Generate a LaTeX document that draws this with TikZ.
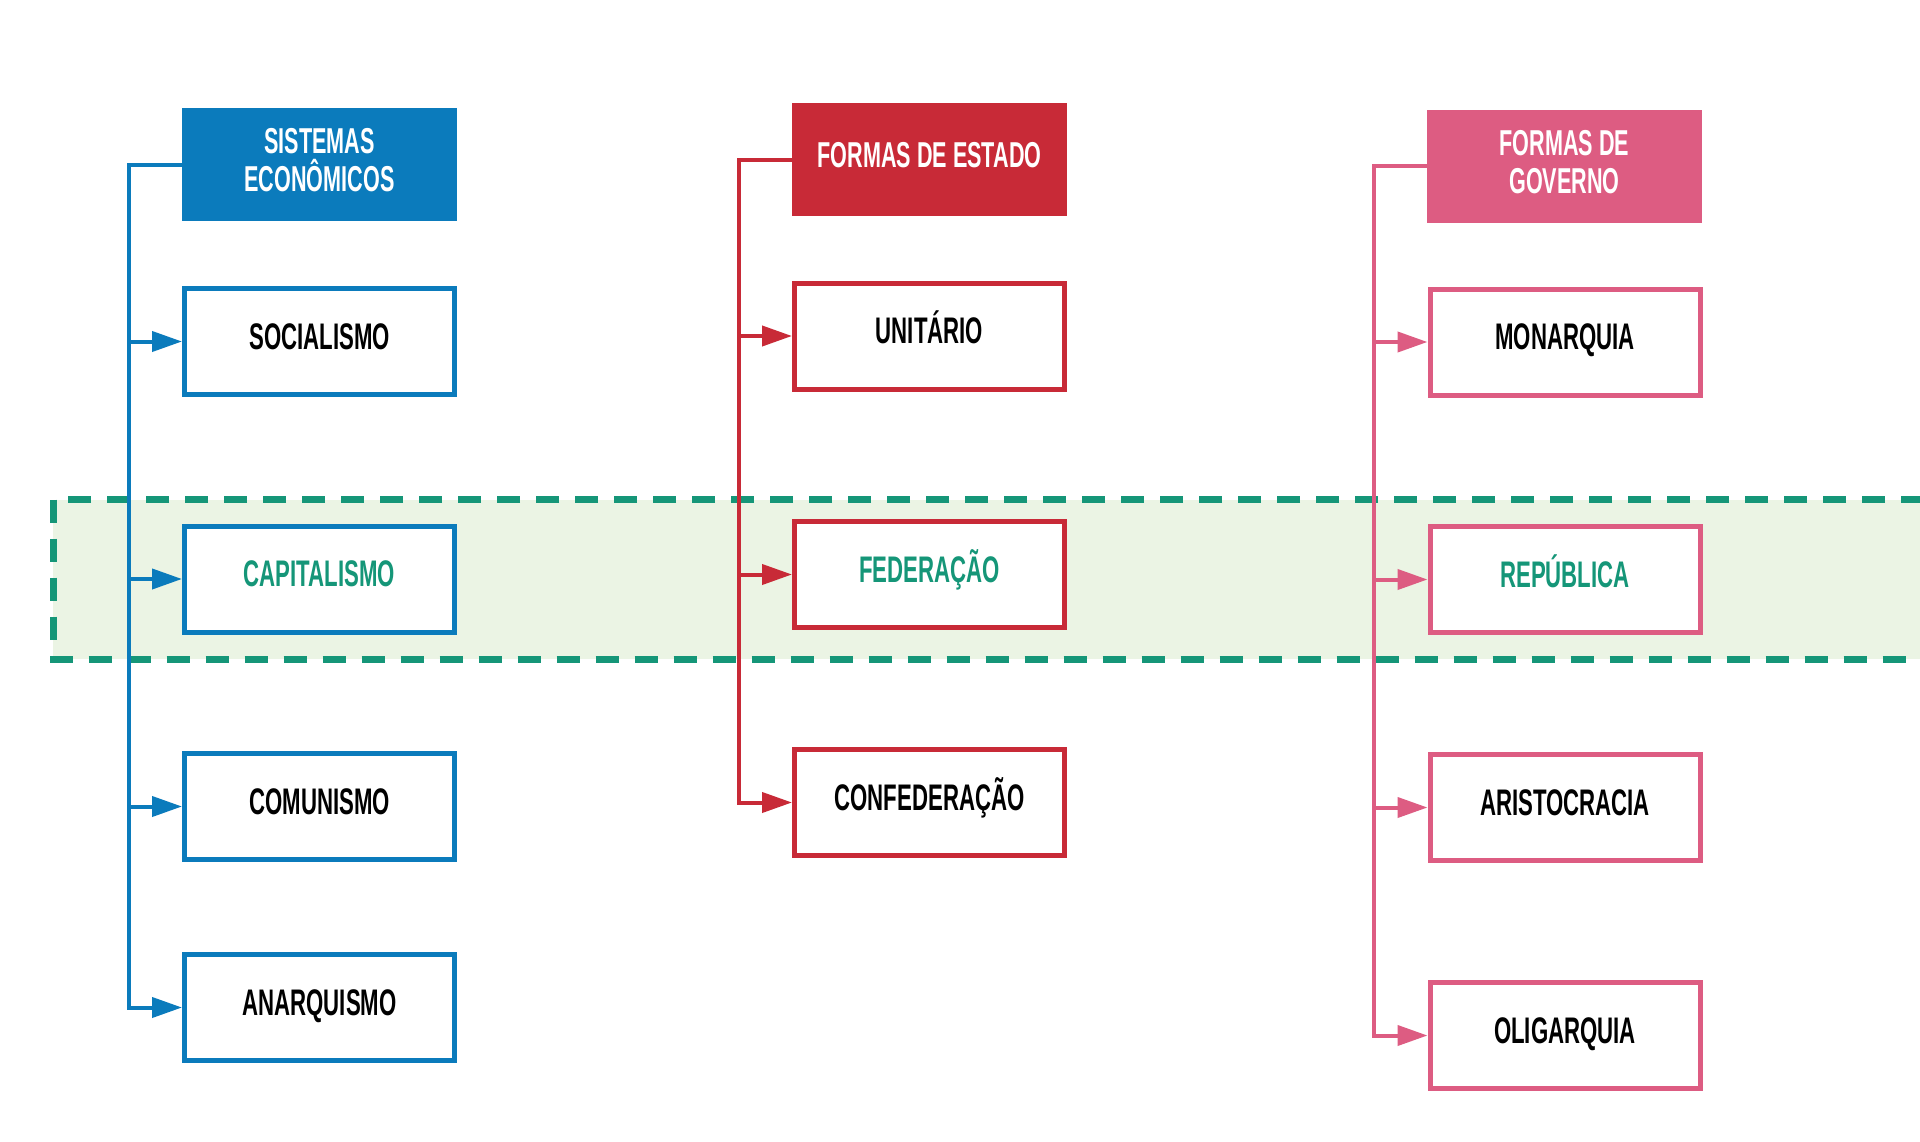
\documentclass[tikz,border=0pt]{standalone}
\usepackage{fontspec}
\setmainfont{Liberation Sans}[FakeStretch=0.6]
\usetikzlibrary{arrows.meta}
\definecolor{azul}{HTML}{0B7BBC}
\definecolor{vermelho}{HTML}{C82A37}
\definecolor{rosa}{HTML}{DD5C82}
\definecolor{verde}{HTML}{159678}
\definecolor{verdeclaro}{HTML}{EBF4E4}

\begin{document}
\begin{tikzpicture}[x=1pt,y=-1pt,
    caixa/.style={draw=#1,line width=5pt,fill=white,minimum width=270pt,minimum height=106pt,
      font=\fontsize{37}{40}\selectfont\bfseries,text height=27pt,text depth=12pt},
    titulo/.style={fill=#1,minimum width=275pt,minimum height=113pt,text=white,align=center,
      font=\fontsize{36}{38}\selectfont\bfseries,text depth=10pt},
    liga/.style={draw=#1,line width=4pt,-{Triangle[length=30pt,width=20pt]}},
    destaque/.style={text=verde}]
  \clip (0,0) rectangle (1920,1142);
  % faixa em destaque
  \draw[verde,fill=verdeclaro,line width=7pt,dash pattern=on 23pt off 16pt] (53,499.5) rectangle (1960,659);

  % sistemas economicos
  \node[titulo=azul] (se) at (319.5,165) {SISTEMAS\\ECONÔMICOS};
  \node[caixa=azul] (so) at (319.5,341.5) {SOCIALISMO};
  \node[caixa=azul,destaque] (ca) at (319.5,579) {CAPITALISMO};
  \node[caixa=azul] (co) at (319.5,806.5) {COMUNISMO};
  \node[caixa=azul] (an) at (319.5,1007.5) {ANARQUISMO};

  % formas de estado
  \node[titulo=vermelho] (fe) at (929.5,160) {FORMAS DE ESTADO};
  \node[caixa=vermelho] (un) at (929.5,336) {UNITÁRIO};
  \node[caixa=vermelho,destaque] (fd) at (929.5,574.5) {FEDERAÇÃO};
  \node[caixa=vermelho] (cf) at (929.5,802.5) {CONFEDERAÇÃO};

  % formas de governo
  \node[titulo=rosa] (fg) at (1564.5,166.5) {FORMAS DE\\GOVERNO};
  \node[caixa=rosa] (mo) at (1565,342) {MONARQUIA};
  \node[caixa=rosa,destaque] (re) at (1565,579.5) {REPÚBLICA};
  \node[caixa=rosa] (ar) at (1565,807.5) {ARISTOCRACIA};
  \node[caixa=rosa] (ol) at (1565,1035.5) {OLIGARQUIA};

  \draw[liga=azul] (se.west) -- ++(-52.5,0) coordinate (ta) |- (an.west);
  \draw[liga=azul] (ta |- so.west) -- (so.west);
  \draw[liga=azul] (ta |- ca.west) -- (ca.west);
  \draw[liga=azul] (ta |- co.west) -- (co.west);

  \draw[liga=vermelho] (fe.west) -- ++(-52.5,0) coordinate (tv) |- (cf.west);
  \draw[liga=vermelho] (tv |- un.west) -- (un.west);
  \draw[liga=vermelho] (tv |- fd.west) -- (fd.west);

  \draw[liga=rosa] (fg.west) -- ++(-52.5,0) coordinate (tr) |- (ol.west);
  \draw[liga=rosa] (tr |- mo.west) -- (mo.west);
  \draw[liga=rosa] (tr |- re.west) -- (re.west);
  \draw[liga=rosa] (tr |- ar.west) -- (ar.west);
\end{tikzpicture}
\end{document}
